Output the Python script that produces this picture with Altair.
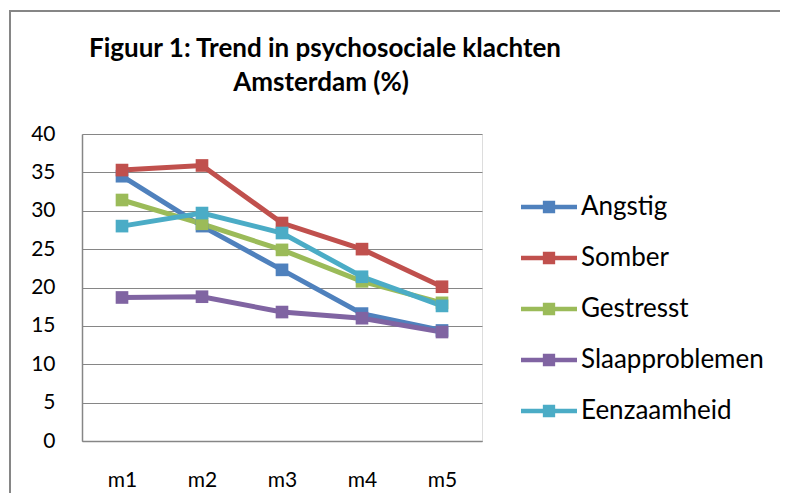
import altair as alt
import pandas as pd

months = ["m1", "m2", "m3", "m4", "m5"]
series_names = ["Angstig", "Somber", "Gestresst", "Slaapproblemen", "Eenzaamheid"]
angstig = [34.5, 28.0, 22.3, 16.6, 14.4]
somber = [35.3, 35.9, 28.4, 25.0, 20.1]
gestresst = [31.4, 28.3, 24.9, 20.8, 18.0]
slaapproblemen = [18.7, 18.8, 16.8, 16.0, 14.2]
eenzaamheid = [28.0, 29.7, 27.1, 21.4, 17.6]
colors = ["#4F81BD", "#C0504D", "#9BBB59", "#8064A2", "#4BACC6"]
y_ticks = [0, 5, 10, 15, 20, 25, 30, 35, 40]
title_lines = ["Figuur 1: Trend in psychosociale klachten", "Amsterdam (%)"]

values = [angstig, somber, gestresst, slaapproblemen, eenzaamheid]
rows = []
for name, vals in zip(series_names, values):
    for m, v in zip(months, vals):
        rows.append({"maand": m, "serie": name, "waarde": v})
df = pd.DataFrame(rows)

FONT = "Lato"
GRID = "#868686"

legend_path = ("M-1,-0.08 L1,-0.08 L1,0.08 L-1,0.08 Z "
               "M-0.22,-0.22 L0.22,-0.22 L0.22,0.22 L-0.22,0.22 Z")

x_enc = alt.X("maand:N", sort=months, title=None,
              scale=alt.Scale(paddingOuter=0.5, paddingInner=0),
              axis=alt.Axis(labelAngle=0, ticks=False, grid=False, domainColor=GRID,
                            domainWidth=1.5, labelFont=FONT, labelFontSize=21,
                            labelColor="black", labelPadding=28))
y_enc = alt.Y("waarde:Q", title=None,
              scale=alt.Scale(domain=[0, 40], nice=False),
              axis=alt.Axis(values=y_ticks, ticks=False, gridColor=GRID, gridWidth=1.2,
                            domainColor=GRID, domainWidth=1.5, labelFont=FONT,
                            labelFontSize=21, labelColor="black", labelPadding=27))
color_enc = alt.Color("serie:N", sort=series_names, title=None,
                      scale=alt.Scale(domain=series_names, range=colors),
                      legend=alt.Legend(orient="none", legendX=439, legendY=45,
                                        symbolType=legend_path, symbolSize=3136,
                                        symbolStrokeWidth=0, labelFont=FONT,
                                        labelFontSize=26, labelColor="black",
                                        labelOffset=4, rowPadding=10, padding=0,
                                        labelLimit=400))

base = alt.Chart(df)
lines = base.mark_line(strokeWidth=5).encode(x=x_enc, y=y_enc, color=color_enc)
points = base.mark_point(shape="square", filled=True, size=160, opacity=1).encode(
    x=x_enc, y=y_enc, color=color_enc)

one = alt.Data(values=[{}])
t1 = alt.Chart(one).mark_text(text=title_lines[0], font=FONT, fontSize=26,
                              fontWeight="bold", color="black", align="center",
                              baseline="alphabetic").encode(
    x=alt.value(243), y=alt.value(-77))
t2 = alt.Chart(one).mark_text(text=title_lines[1], font=FONT, fontSize=26,
                              fontWeight="bold", color="black", align="center",
                              baseline="alphabetic").encode(
    x=alt.value(239), y=alt.value(-43))
border_left = alt.Chart(alt.Data(values=[{"k": "l"}])).mark_rect(color=GRID).encode(
    x=alt.value(-73), x2=alt.value(-71), y=alt.value(-124), y2=alt.value(370))
border_top = alt.Chart(alt.Data(values=[{"k": "t"}])).mark_rect(color=GRID).encode(
    x=alt.value(-73), x2=alt.value(698), y=alt.value(-124), y2=alt.value(-122))

chart = alt.layer(border_left, border_top, t1, t2, lines, points).properties(
    width=400, height=307,
    autosize=alt.AutoSizeParams(type="none"),
    padding={"left": 74, "top": 126, "right": 299, "bottom": 52},
).configure_view(stroke=None).configure(background="white")

chart.save("out.html", embed_options={"renderer": "svg", "actions": False})
